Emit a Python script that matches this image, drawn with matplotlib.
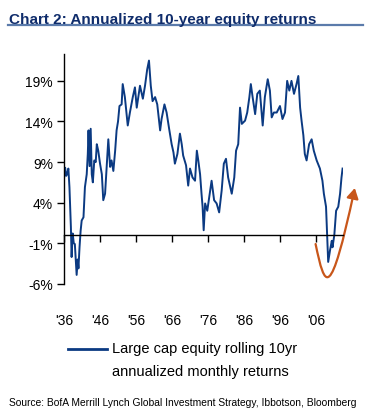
import matplotlib
matplotlib.use("Agg")
import matplotlib.pyplot as plt
from matplotlib.path import Path
from matplotlib.patches import FancyArrowPatch

plt.rcParams["font.family"] = ["Liberation Sans", "DejaVu Sans"]

# rolling 10y annualized return (year, %)
years = [1936.0, 1936.3, 1936.6, 1936.9, 1937.2, 1937.5, 1937.9, 1938.1, 1938.4, 1938.7,
         1939.0, 1939.3, 1939.5, 1939.8, 1940.0, 1940.3, 1940.6, 1940.9, 1941.4, 1941.8,
         1942.3, 1942.6, 1942.8, 1943.1, 1943.4, 1943.7, 1944.0, 1944.4, 1944.8, 1945.1,
         1945.5, 1946.0, 1946.5, 1946.9, 1947.4, 1947.9, 1948.3, 1948.8, 1949.2, 1949.7,
         1950.2, 1950.6, 1951.0, 1951.4, 1952.0, 1952.3, 1952.9, 1953.7, 1954.3, 1955.1,
         1955.7, 1956.2, 1957.1, 1957.9, 1958.5, 1959.1, 1959.6, 1960.1, 1960.6, 1961.3,
         1961.9, 1962.7, 1963.1, 1963.9, 1964.5, 1965.2, 1965.9, 1966.4, 1966.8, 1967.5,
         1968.2, 1968.7, 1969.1, 1969.9, 1970.5, 1971.0, 1971.7, 1972.4, 1972.9, 1973.3,
         1973.8, 1974.2, 1974.5, 1974.8, 1975.2, 1975.8, 1976.6, 1977.0, 1977.7, 1978.4,
         1979.1, 1979.8, 1980.4, 1981.0, 1981.6, 1982.6, 1983.3, 1983.8, 1984.4, 1984.9,
         1985.4, 1986.3, 1986.9, 1987.5, 1987.9, 1988.4, 1989.1, 1989.7, 1990.4, 1991.2,
         1991.8, 1992.6, 1993.2, 1993.7, 1994.3, 1995.1, 1996.0, 1996.7, 1997.4, 1998.0,
         1998.6, 1999.2, 1999.9, 2000.6, 2001.1, 2001.6, 2002.0, 2002.5, 2002.9, 2003.4,
         2004.1, 2004.8, 2005.4, 2006.2, 2007.1, 2007.8, 2008.2, 2008.8, 2009.1, 2009.4,
         2009.9, 2010.4, 2010.6, 2011.1, 2011.6, 2012.2, 2012.7, 2013.1, 2013.4]
returns = [7.0, 8.3, 7.3, 7.6, 8.2, 5.9, 1.0, -2.7, 0.2, -1.0,
           -1.1, -3.5, -4.9, -3.0, -4.1, -1.5, 0.5, 1.8, 2.2, 5.9,
           7.5, 10.0, 12.9, 8.5, 13.1, 7.5, 6.5, 9.2, 9.0, 11.2,
           10.4, 8.8, 7.5, 4.3, 5.1, 8.8, 11.8, 8.4, 9.2, 7.9,
           10.4, 12.9, 14.0, 15.9, 16.1, 18.6, 17.0, 13.5, 15.1, 17.0,
           18.2, 15.7, 18.4, 16.8, 18.4, 20.4, 21.5, 18.4, 16.5, 17.0,
           16.1, 12.9, 14.3, 16.1, 15.1, 13.1, 11.2, 10.2, 8.8, 10.0,
           12.5, 11.2, 9.8, 8.6, 6.1, 8.2, 7.1, 6.7, 10.4, 9.2,
           7.5, 5.1, 3.5, 0.6, 3.9, 3.0, 5.5, 6.7, 4.3, 3.9,
           2.8, 5.5, 8.8, 9.4, 7.1, 5.1, 7.1, 10.4, 11.2, 15.7,
           13.7, 14.1, 15.1, 17.0, 18.6, 17.0, 14.9, 17.4, 17.8, 13.5,
           17.0, 19.2, 17.8, 14.5, 15.1, 15.1, 15.9, 14.3, 15.1, 19.0,
           17.8, 19.0, 17.4, 18.6, 19.6, 15.7, 14.1, 12.3, 10.0, 9.2,
           11.2, 11.8, 10.4, 9.2, 8.2, 6.7, 5.1, 3.5, 0.2, -3.3,
           -1.9, -0.7, -1.5, 0.0, 3.0, 3.5, 5.1, 7.1, 8.2]

y_ticks = [-6, -1, 4, 9, 14, 19]
x_ticks = [1936, 1946, 1956, 1966, 1976, 1986, 1996, 2006]
x_labels = ["'36", "'46", "'56", "'66", "'76", "'86", "'96", "'06"]

# hand-drawn rebound arrow (start, two control points, tip)
arrow_pts = [(2005.9, -1.1), (2008.5, -6.6), (2009.9, -8.4), (2016.8, 5.8)]

NAVY = "#0b3a82"
ORANGE = "#c8561a"

fig = plt.figure(figsize=(3.66, 4.14), dpi=100)
ax = fig.add_axes([0.175, 0.312, 0.762, 0.555])

ax.plot(years, returns, color=NAVY, lw=1.4)

ax.set_xlim(1936, 2013.5)
ax.set_ylim(-6, 22.3)
ax.set_yticks(y_ticks)
ax.set_yticklabels([f"{v}%" for v in y_ticks])
ax.set_xticks(x_ticks)
ax.set_xticklabels(x_labels)

for s in ["top", "right"]:
    ax.spines[s].set_visible(False)
ax.spines["bottom"].set_position(("data", 0))
ax.spines["left"].set_linewidth(1.0)
ax.spines["bottom"].set_linewidth(1.0)
ax.tick_params(axis="y", direction="out", length=5, width=1, labelsize=10, pad=3, colors="black")
ax.tick_params(axis="x", direction="out", length=5, width=1, labelsize=10, pad=51)
ax.patch.set_visible(False)

arrow = FancyArrowPatch(path=Path(arrow_pts, [Path.MOVETO, Path.CURVE4, Path.CURVE4, Path.CURVE4]),
                        arrowstyle="-|>,head_length=3.8,head_width=2.2", color=ORANGE, lw=1.6,
                        clip_on=False, mutation_scale=1.6)
ax.add_patch(arrow)

# title and rule
fig.text(0.025, 0.952, "Chart 2: Annualized 10-year equity returns", fontsize=11,
         fontweight="bold", color="#0f2c6b", ha="left", va="center")
fig.add_artist(plt.Line2D([0.022, 0.992], [0.938, 0.938], color="#5b7bab", lw=1.6))

# legend
fig.add_artist(plt.Line2D([0.186, 0.292], [0.155, 0.155], color=NAVY, lw=2))
fig.text(0.305, 0.158, "Large cap equity rolling 10yr", fontsize=10.5, ha="left", va="center")
fig.text(0.305, 0.102, "annualized monthly returns", fontsize=10.5, ha="left", va="center")

fig.text(0.024, 0.027, "Source: BofA Merrill Lynch Global Investment Strategy, Ibbotson, Bloomberg",
         fontsize=7.4, ha="left", va="center")

fig.savefig("out.png", dpi=100)
